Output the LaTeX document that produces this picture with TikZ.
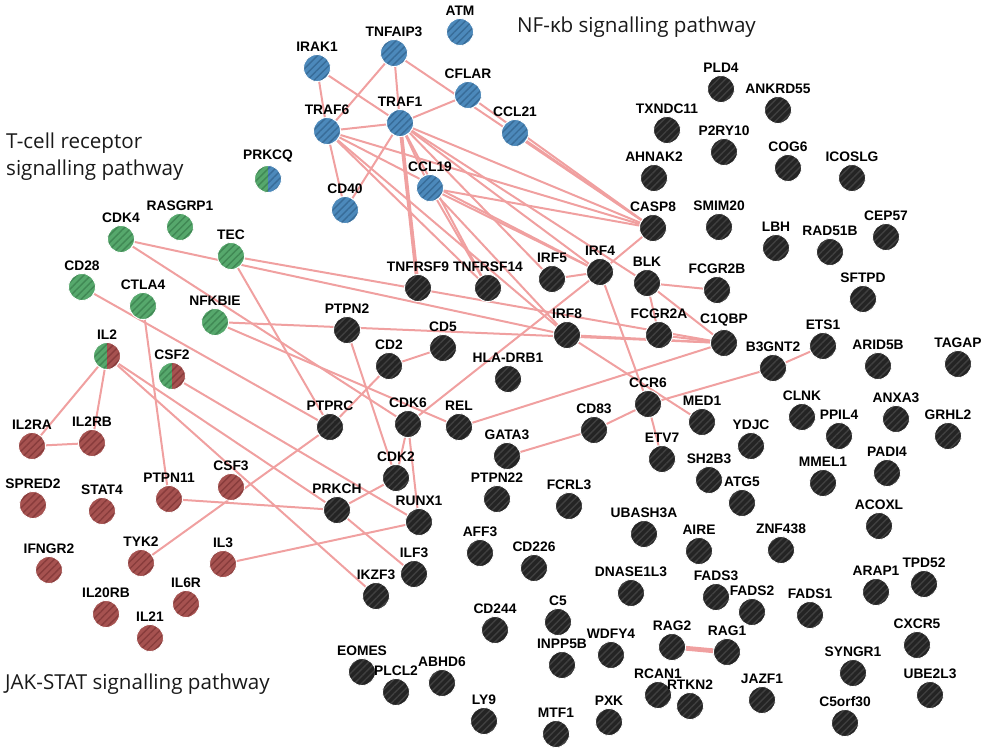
\documentclass[tikz,border=0pt]{standalone}
\usepackage{fontspec}
\setmainfont{Liberation Sans}
\newfontfamily\titlefont{Open Sans}
\usetikzlibrary{patterns.meta}
\definecolor{nfb}{RGB}{76,137,187}
\definecolor{nfbdk}{RGB}{56,108,152}
\definecolor{grn}{RGB}{86,168,108}
\definecolor{grndk}{RGB}{64,136,84}
\definecolor{rdd}{RGB}{166,82,80}
\definecolor{rdddk}{RGB}{136,60,60}
\definecolor{blk}{RGB}{36,36,36}
\definecolor{blkdk}{RGB}{64,64,64}
\definecolor{lnkc}{RGB}{240,160,160}
\pgfdeclarelayer{bg}
\pgfsetlayers{bg,main}
\tikzset{
  x=1pt, y=-1pt,
  lbl/.style={font=\bfseries\fontsize{13.8}{13.8}\selectfont, inner sep=0pt, text=black},
  every label/.style={lbl},
  label distance=2.2pt,
  gene/.style={circle, minimum size=27pt, inner sep=0pt, draw=white, line width=0.9pt},
  hatch/.style={pattern={Lines[angle=45,distance=5pt,line width=1.4pt]}, pattern color=#1},
  gcol/.style={gene, preaction={fill=#1}, hatch=#1dk},
  B/.style={gcol=nfb},
  G/.style={gcol=grn},
  R/.style={gcol=rdd},
  K/.style={gcol=blk},
  split/.style 2 args={gene, path picture={
    \fill[#1] (path picture bounding box.south west) rectangle (path picture bounding box.north);
    \fill[hatch=#1dk] (path picture bounding box.south west) rectangle (path picture bounding box.north);
    \fill[#2] (path picture bounding box.south) rectangle (path picture bounding box.north east);
    \fill[hatch=#2dk] (path picture bounding box.south) rectangle (path picture bounding box.north east);}},
  lnk/.style={draw=lnkc, line width=2pt},
  thicklnk/.style={draw=lnkc, line width=3.8pt},
  ttl/.style={font=\titlefont\fontsize{20.6}{20.6}\selectfont, inner sep=0pt, anchor=base west, text=black!90}
}
\newcommand{\gene}[4]{\node[#1, label=above:#2] (#2) at (#3,#4) {};}
\begin{document}
\begin{tikzpicture}
\useasboundingbox (0,0) rectangle (985,748);
% titles
\node[ttl] (tnf) at (517,32) {NF-κb signalling pathway};
\node[ttl] (ttc1) at (6,148) {T-cell receptor};
\node[ttl] (ttc2) at (6,175) {signalling pathway};
\node[ttl] (tjak) at (5,689) {JAK-STAT signalling pathway};
% blue
\gene{B}{ATM}{460}{32}
\gene{B}{TNFAIP3}{394}{53}
\gene{B}{IRAK1}{317}{68}
\gene{B}{CFLAR}{468}{95}
\gene{B}{TRAF6}{327}{131}
\gene{B}{TRAF1}{400}{123}
\gene{B}{CCL21}{515}{133}
\gene{B}{CCL19}{430}{188}
\gene{B}{CD40}{345}{210}
\node[split={grn}{nfb}, label=above:PRKCQ] (PRKCQ) at (268,179) {};
% green
\gene{G}{RASGRP1}{180}{227}
\gene{G}{CDK4}{121}{239}
\gene{G}{TEC}{231}{256}
\gene{G}{CD28}{82}{287}
\gene{G}{CTLA4}{143}{306}
\gene{G}{NFKBIE}{215}{322}
\node[split={grn}{rdd}, label=above:IL2] (IL2) at (107,356) {};
\node[split={grn}{rdd}, label=above:CSF2] (CSF2) at (172,376) {};
% red
\gene{R}{IL2RA}{32}{446}
\gene{R}{IL2RB}{92}{443}
\gene{R}{SPRED2}{33}{505}
\gene{R}{STAT4}{102}{511}
\gene{R}{PTPN11}{169}{499}
\gene{R}{CSF3}{231}{487}
\gene{R}{IFNGR2}{49}{570}
\gene{R}{TYK2}{141}{563}
\gene{R}{IL3}{223}{564}
\gene{R}{IL20RB}{106}{614}
\gene{R}{IL6R}{186}{604}
\gene{R}{IL21}{150}{638}
% black
\gene{K}{PTPN2}{347}{330}
\gene{K}{CD5}{443}{348}
\gene{K}{CD2}{389}{366}
\gene{K}{PTPRC}{330}{427}
\gene{K}{CDK6}{408}{424}
\gene{K}{REL}{459}{427}
\gene{K}{CDK2}{396}{478}
\gene{K}{PRKCH}{337}{510}
\gene{K}{RUNX1}{419}{522}
\gene{K}{ILF3}{414}{574}
\gene{K}{IKZF3}{376}{596}
\gene{K}{TNFRSF9}{418}{288}
\gene{K}{TNFRSF14}{488}{288}
\gene{K}{IRF5}{552}{279}
\gene{K}{IRF4}{600}{272}
\gene{K}{BLK}{647}{283}
\gene{K}{FCGR2B}{717}{290}
\gene{K}{IRF8}{567}{335}
\gene{K}{FCGR2A}{659}{335}
\gene{K}{C1QBP}{724}{343}
\node[K, label=above:HLA-DRB1] (HLADRB1) at (508,379) {};
\gene{K}{CCR6}{648}{404}
\gene{K}{MED1}{702}{422}
\gene{K}{CD83}{594}{430}
\gene{K}{GATA3}{507}{456}
\gene{K}{ETV7}{662}{459}
\gene{K}{CASP8}{653}{228}
\gene{K}{SMIM20}{719}{227}
\gene{K}{PLD4}{721}{89}
\gene{K}{ANKRD55}{778}{110}
\gene{K}{TXNDC11}{667}{130}
\gene{K}{P2RY10}{724}{152}
\gene{K}{COG6}{788}{168}
\gene{K}{ICOSLG}{852}{178}
\gene{K}{AHNAK2}{654}{178}
\gene{K}{LBH}{776}{248}
\gene{K}{RAD51B}{830}{252}
\gene{K}{CEP57}{886}{237}
\gene{K}{SFTPD}{863}{299}
\gene{K}{ETS1}{823}{346}
\gene{K}{B3GNT2}{773}{368}
\gene{K}{ARID5B}{878}{366}
\gene{K}{TAGAP}{958}{364}
\gene{K}{YDJC}{751}{446}
\gene{K}{CLNK}{802}{417}
\gene{K}{PPIL4}{839}{436}
\gene{K}{ANXA3}{896}{419}
\gene{K}{GRHL2}{948}{436}
\gene{K}{PADI4}{887}{473}
\gene{K}{MMEL1}{823}{483}
\gene{K}{SH2B3}{709}{480}
\gene{K}{ATG5}{742}{503}
\gene{K}{PTPN22}{497}{499}
\gene{K}{FCRL3}{569}{506}
\gene{K}{UBASH3A}{644}{534}
\gene{K}{AIRE}{699}{551}
\gene{K}{ZNF438}{781}{550}
\gene{K}{ACOXL}{879}{526}
\gene{K}{AFF3}{480}{553}
\gene{K}{CD226}{534}{568}
\gene{K}{TPD52}{924}{584}
\gene{K}{ARAP1}{876}{592}
\gene{K}{DNASE1L3}{631}{593}
\gene{K}{FADS3}{716}{597}
\gene{K}{FADS2}{752}{612}
\gene{K}{FADS1}{810}{615}
\gene{K}{CD244}{495}{630}
\gene{K}{C5}{558}{622}
\gene{K}{EOMES}{362}{672}
\gene{K}{PLCL2}{396}{692}
\gene{K}{ABHD6}{442}{683}
\gene{K}{INPP5B}{562}{665}
\gene{K}{WDFY4}{611}{655}
\gene{K}{RAG2}{672}{647}
\gene{K}{RAG1}{727}{652}
\gene{K}{SYNGR1}{853}{673}
\gene{K}{CXCR5}{917}{645}
\gene{K}{UBE2L3}{930}{695}
\gene{K}{RCAN1}{658}{695}
\gene{K}{RTKN2}{690}{706}
\gene{K}{JAZF1}{762}{700}
\gene{K}{LY9}{484}{721}
\gene{K}{MTF1}{556}{734}
\gene{K}{PXK}{609}{722}
\gene{K}{C5orf30}{845}{723}
% links
\begin{pgfonlayer}{bg}
\draw[lnk] (IRAK1) -- (TRAF6);
\draw[lnk] (IRAK1) -- (TRAF1);
\draw[lnk] (TNFAIP3) -- (TRAF6);
\draw[lnk] (TNFAIP3) -- (TRAF1);
\draw[lnk] (TNFAIP3) -- (CASP8);
\draw[lnk] (CFLAR) -- (CASP8);
\draw[lnk] (CCL21) -- (CASP8);
\draw[lnk] (TRAF1) -- (CFLAR);
\draw[lnk] (TRAF6) -- (TRAF1);
\draw[lnk] (TRAF6) -- (CD40);
\draw[lnk] (TRAF1) -- (CD40);
\draw[lnk] (TRAF1) -- (CCL19);
\draw[thicklnk] (TRAF1) -- (TNFRSF9);
\draw[lnk] (TRAF1) -- (TNFRSF14);
\draw[lnk] (TRAF1) -- (IRF5);
\draw[lnk] (TRAF1) -- (IRF4);
\draw[lnk] (TRAF1) -- (BLK);
\draw[lnk] (TRAF1) -- (CASP8);
\draw[lnk] (TRAF6) -- (CASP8);
\draw[lnk] (TRAF6) -- (IRF4);
\draw[lnk] (TRAF6) -- (IRF8);
\draw[lnk] (TRAF6) -- (TNFRSF14);
\draw[lnk] (CCL19) -- (CASP8);
\draw[lnk] (CCL19) -- (IRF4);
\draw[lnk] (CCL19) -- (IRF8);
\draw[lnk] (CCL19) -- (TNFRSF14);
\draw[lnk] (CASP8) -- (IRF4);
\draw[lnk] (IRF5) -- (IRF4);
\draw[lnk] (IRF4) -- (CCR6);
\draw[lnk] (CCR6) -- (ETV7);
\draw[lnk] (IRF8) -- (MED1);
\draw[lnk] (IRF8) -- (C1QBP);
\draw[lnk] (NFKBIE) -- (C1QBP);
\draw[lnk] (NFKBIE) -- (REL);
\draw[lnk] (CDK4) -- (IRF8);
\draw[lnk] (CDK4) -- (CDK6);
\draw[lnk] (TEC) -- (C1QBP);
\draw[lnk] (TEC) -- (PTPRC);
\draw[lnk] (CD28) -- (PTPRC);
\draw[lnk] (BLK) -- (FCGR2B);
\draw[lnk] (BLK) -- (FCGR2A);
\draw[lnk] (BLK) -- (C1QBP);
\draw[lnk] (FCGR2A) -- (C1QBP);
\draw[lnk] (REL) -- (C1QBP);
\draw[lnk] (CDK6) -- (IRF4);
\draw[lnk] (CDK6) -- (CDK2);
\draw[lnk] (CDK6) -- (RUNX1);
\draw[lnk] (PTPN2) -- (CDK2);
\draw[lnk] (CD2) -- (CD5);
\draw[lnk] (CD2) -- (PTPRC);
\draw[lnk] (PTPRC) -- (TYK2);
\draw[lnk] (CDK2) -- (PRKCH);
\draw[lnk] (PTPN11) -- (PRKCH);
\draw[lnk] (CTLA4) -- (PTPN11);
\draw[lnk] (PRKCH) -- (ILF3);
\draw[lnk] (IL3) -- (RUNX1);
\draw[lnk] (CSF2) -- (RUNX1);
\draw[lnk] (IL2) -- (PRKCH);
\draw[lnk] (IL2) -- (IKZF3);
\draw[lnk] (IL2) -- (IL2RA);
\draw[lnk] (IL2) -- (IL2RB);
\draw[lnk] (IL2RA) -- (IL2RB);
\draw[lnk] (GATA3) -- (CD83);
\draw[lnk] (CD83) -- (CCR6);
\draw[lnk] (CCR6) -- (B3GNT2);
\draw[lnk] (B3GNT2) -- (ETS1);
\draw[draw=lnkc, line width=4.8pt] (RAG2) -- (RAG1);
\end{pgfonlayer}
\end{tikzpicture}
\end{document}
